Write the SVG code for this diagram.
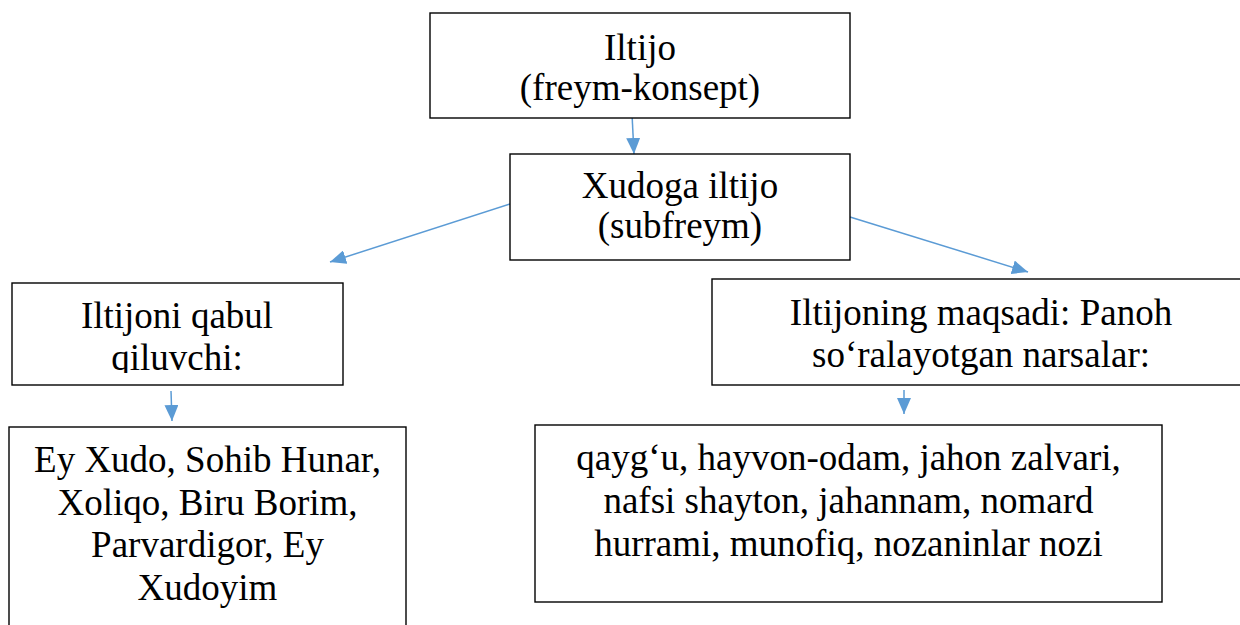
<svg xmlns="http://www.w3.org/2000/svg" width="1240" height="625" viewBox="0 0 1240 625">
<style>
.box{fill:#fff;stroke:#000;stroke-width:1.4}
.t{font-family:'Liberation Serif','Times New Roman',serif;font-size:37px;fill:#000;text-anchor:middle}
.c{stroke:#5B9BD5;stroke-width:1.5;fill:none}
</style>
<defs>
<marker id="ah" markerUnits="userSpaceOnUse" markerWidth="16" markerHeight="14" viewBox="0 0 16 14" refX="16" refY="7" orient="auto">
<path d="M0,0 L16,7 L0,14 Z" fill="#5B9BD5"/>
</marker>
<clipPath id="clipL"><rect x="12" y="283" width="331" height="90"/></clipPath>
</defs>
<rect width="1240" height="625" fill="#fff"/>
<g id="connectors">
<line class="c" x1="632" y1="114" x2="634" y2="154" marker-end="url(#ah)"/>
<line class="c" x1="510" y1="204" x2="330" y2="262" marker-end="url(#ah)"/>
<line class="c" x1="850" y1="217" x2="1028" y2="272" marker-end="url(#ah)"/>
<line class="c" x1="171" y1="391" x2="172" y2="421" marker-end="url(#ah)"/>
<line class="c" x1="904" y1="390" x2="904" y2="414" marker-end="url(#ah)"/>
</g>
<g id="n-iltijo">
<rect class="box" x="430" y="13" width="420" height="105"/>
<text class="t" x="640" y="60" font-family="Liberation Serif">Iltijo</text>
<text class="t" x="640" y="100" font-family="Liberation Serif">(freym-konsept)</text>
</g>
<g id="n-xudoga">
<rect class="box" x="510" y="154" width="340" height="106"/>
<text class="t" x="680" y="198" font-family="Liberation Serif">Xudoga iltijo</text>
<text class="t" x="680" y="238" font-family="Liberation Serif">(subfreym)</text>
</g>
<g id="n-qabul">
<rect class="box" x="12" y="283" width="331" height="102"/>
<g clip-path="url(#clipL)">
<text class="t" x="177" y="328" font-family="Liberation Serif">Iltijoni qabul</text>
<text class="t" x="177" y="370" font-family="Liberation Serif">qiluvchi:</text>
</g>
</g>
<g id="n-maqsad">
<rect class="box" x="712" y="279" width="540" height="106"/>
<text class="t" x="981" y="325" font-family="Liberation Serif">Iltijoning maqsadi: Panoh</text>
<text class="t" x="981" y="367" font-family="Liberation Serif">so‘ralayotgan narsalar:</text>
</g>
<g id="n-nomlar">
<rect class="box" x="9" y="427" width="397" height="260"/>
<text class="t" x="207.5" y="472" font-family="Liberation Serif">Ey Xudo, Sohib Hunar,</text>
<text class="t" x="207.5" y="515" font-family="Liberation Serif">Xoliqo, Biru Borim,</text>
<text class="t" x="207.5" y="557" font-family="Liberation Serif">Parvardigor, Ey</text>
<text class="t" x="207.5" y="600" font-family="Liberation Serif">Xudoyim</text>
</g>
<g id="n-narsalar">
<rect class="box" x="535" y="425" width="627" height="177"/>
<text class="t" x="848.5" y="470" font-family="Liberation Serif">qayg‘u, hayvon-odam, jahon zalvari,</text>
<text class="t" x="848.5" y="513" font-family="Liberation Serif">nafsi shayton, jahannam, nomard</text>
<text class="t" x="848.5" y="556" font-family="Liberation Serif">hurrami, munofiq, nozaninlar nozi</text>
</g>
</svg>
